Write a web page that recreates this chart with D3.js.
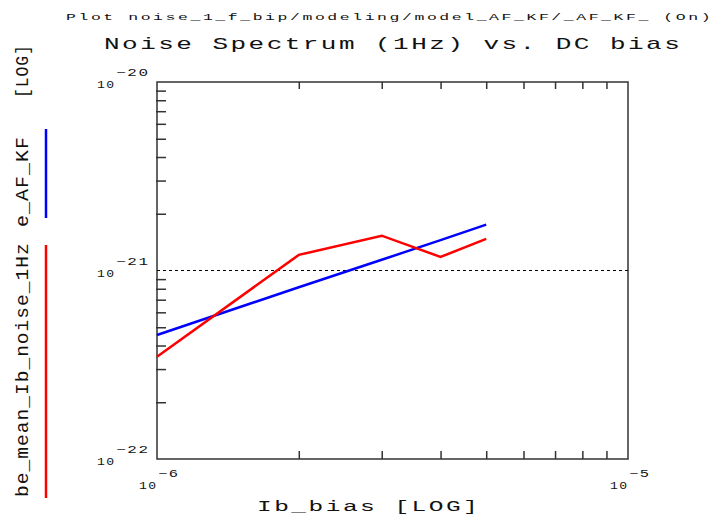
<!DOCTYPE html>
<html>
<head>
<meta charset="utf-8">
<script src="https://cdn.jsdelivr.net/npm/d3@7"></script>
<style>
  body { margin: 0; background: #fff; }
  text { font-family: "Liberation Mono", "DejaVu Sans Mono", monospace; fill: #111; }
</style>
</head>
<body>
<div id="chart"></div>
<script>
// bias points (A)
const ibBias = [1e-6, 2e-6, 3e-6, 4e-6, 5e-6];
// measured mean Ib noise at 1Hz
const meanNoise = [3.49e-22, 1.21e-21, 1.53e-21, 1.18e-21, 1.47e-21];
// AF/KF model fit
const modelAfKf = [4.55e-22, 8.15e-22, 1.14e-21, 1.45e-21, 1.75e-21];

const xDecades = [-6, -5];
const yDecades = [-20, -21, -22];
const refLevel = 1e-21;

const W = 717, H = 515;
const margin = {top: 82, right: 89, bottom: 56, left: 157};
const width = W - margin.left - margin.right,
      height = H - margin.top - margin.bottom;

const svg = d3.select("#chart").append("svg")
    .attr("width", W)
    .attr("height", H);

const g = svg.append("g")
    .attr("transform", `translate(${margin.left},${margin.top})`);

const x = d3.scaleLog().domain([1e-6, 1e-5]).range([0, width]);
const y = d3.scaleLog().domain([1e-22, 1e-20]).range([height, 0]);

// minor ticks 2..9 in each decade
const minor = (lo, hi) => {
  const out = [];
  for (let e = lo; e < hi; e++)
    for (let m = 2; m <= 9; m++) out.push(m * Math.pow(10, e));
  return out;
};

// text helper: letter-spaced, then scaled horizontally to the measured width
function label(sel, str, px, py, size, len, ls, rot) {
  const t = sel.append("text")
    .attr("font-size", size)
    .style("letter-spacing", (ls || 0) + "px")
    .text(str);
  const natural = t.node().getComputedTextLength() - (ls || 0);
  const sx = len / natural;
  t.attr("transform", `translate(${px},${py})` + (rot ? ` rotate(${rot})` : "") + ` scale(${sx},1)`);
  return t;
}

// frame
g.append("rect")
  .attr("width", width).attr("height", height)
  .attr("fill", "none").attr("stroke", "#333").attr("stroke-width", 1.5);

// axes (ticks inside)
const axStyle = a => a.select(".domain").remove();
g.append("g").attr("transform", `translate(0,${height})`)
  .call(d3.axisTop(x).tickValues(minor(-6, -5)).tickSize(8).tickFormat(""))
  .call(axStyle)
  .selectAll("line").attr("stroke", "#333").attr("stroke-width", 1.5);
g.append("g")
  .call(d3.axisBottom(x).tickValues(minor(-6, -5)).tickSize(7).tickFormat(""))
  .call(axStyle)
  .selectAll("line").attr("stroke", "#333").attr("stroke-width", 1.5);
g.append("g").attr("transform", "translate(-1,0)")
  .call(d3.axisRight(y).tickValues(minor(-22, -20)).tickSize(10).tickFormat(""))
  .call(axStyle)
  .selectAll("line").attr("stroke", "#333").attr("stroke-width", 1.5);

// dotted reference line
g.append("line")
  .attr("x1", 0).attr("x2", width)
  .attr("y1", y(refLevel)).attr("y2", y(refLevel))
  .attr("stroke", "#000").attr("stroke-width", 1.2)
  .attr("stroke-dasharray", "3,3");

// series
const line = d3.line().x(d => x(d[0])).y(d => y(d[1]));
g.append("path")
  .datum(d3.zip(ibBias, modelAfKf))
  .attr("d", line).attr("fill", "none")
  .attr("stroke", "#0000ff").attr("stroke-width", 2.5);
g.append("path")
  .datum(d3.zip(ibBias, meanNoise))
  .attr("d", line).attr("fill", "none")
  .attr("stroke", "#ff0000").attr("stroke-width", 2.5);

// y decade labels
yDecades.forEach(e => {
  const py = margin.top + y(Math.pow(10, e));
  label(svg, "10", 97, py + 6, 10, 17, 1);
  label(svg, "\u2212" + (-e), 116, py - 6, 10, 32, 1);
});
// x decade labels
xDecades.forEach(e => {
  const px = margin.left + x(Math.pow(10, e));
  label(svg, "10", px - 18, 489, 10, 17, 1);
  label(svg, "\u2212" + (-e), px + 1, 477, 10, 20, 1);
});

// titles
label(svg, "Plot noise_1_f_bip/modeling/model_AF_KF/_AF_KF_ (On)", 66, 20, 9, 645, 1.4);
label(svg, "Noise Spectrum (1Hz) vs. DC bias", 104, 49, 16, 576, 1.5);
label(svg, "Ib_bias  [LOG]", 257, 511, 15, 221, 1.5);

// y axis title, rotated, with series keys
const yl = svg.append("g");
[["be_mean_Ib_noise_1Hz", 497, 254], ["e_AF_KF", 227, 90], ["[LOG]", 98, 53]].forEach(d => {
  label(yl, d[0], 28, d[1], 19, d[2], 1, -90);
});
yl.append("line").attr("x1", 46).attr("x2", 46).attr("y1", 245).attr("y2", 498)
  .attr("stroke", "#ff0000").attr("stroke-width", 2.5);
yl.append("line").attr("x1", 46).attr("x2", 46).attr("y1", 129).attr("y2", 218)
  .attr("stroke", "#0000ff").attr("stroke-width", 2.5);
</script>
</body>
</html>
